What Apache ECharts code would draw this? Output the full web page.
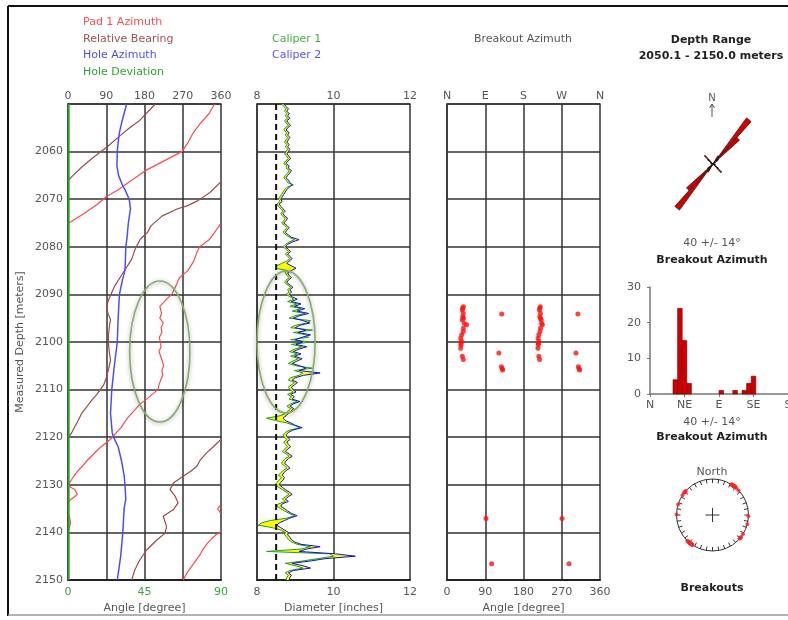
<!DOCTYPE html>
<html><head><meta charset="utf-8">
<script src="https://cdn.jsdelivr.net/npm/echarts@6/dist/echarts.min.js"></script>
<style>html,body{margin:0;padding:0;background:#fff}#c{width:788px;height:620px}</style>
</head><body><div id="c"></div>
<script>
// ---------------- DATA ----------------
const depthMin = 2050, depthMax = 2150, depthStep = 10;
const azTicks = ['0', '90', '180', '270', '360'];
const compassTicks = ['N', 'E', 'S', 'W', 'N'];
const histTicks = ['N', 'NE', 'E', 'SE', 'S'];

// Pad 1 Azimuth [depth, deg]  (null = wrap break)
const pad1Azimuth = [
 [2050,345],[2052,332],[2054,312],[2056,295],[2058,283],[2060,268],[2062,225],[2064,182],[2066,150],[2068,118],[2069.5,90],[2071,70],[2073,38],[2075,2],null,
 [2075.3,358],[2077,345],[2078.5,332],[2080,310],[2081,304],[2083,296],[2085,282],[2086.5,262],[2088,255],[2090,244],[2091,232],[2092.5,216],[2094,220],[2095,216],[2096,224],[2097,219],[2098,221],[2099,215],[2100,217],[2101,219],[2102,214],[2103,218],[2104,222],[2105,225],[2106,221],[2107,223],[2108,218],[2109,214],[2110,212],[2111,198],[2112,185],[2113,170],[2114,160],[2115,150],[2116,140],[2117,132],[2118,125],[2119,114],[2120,105],[2121,92],[2122,78],[2123,66],[2124,55],[2125,44],[2126,35],[2127,24],[2128,15],[2129,8],[2130,1],[2130.5,6],[2131,16],[2132,22],[2132.6,14],[2133.2,5],[2133.8,1],null,
 [2134.3,359],[2135,352],[2135.5,356],[2136,359],null,
 [2136.3,1],[2137,4],[2138,6],[2139,3],[2139.6,1],null,
 [2139.9,359],[2140.5,348],[2141.5,336],[2142.5,326],[2143.5,318],[2144.5,312],[2145.5,304],[2146.5,296],[2147.5,288],[2148.5,280],[2150,271]
];
// Relative Bearing [depth, deg]
const relativeBearing = [
 [2050,205],[2051,195],[2052.3,181],[2053.5,168],[2055,145],[2056.7,122],[2059.1,91],[2061.2,60],[2063.3,32],[2065,12],[2066,1],null,
 [2066.4,359],[2068.6,334],[2070.3,306],[2071.4,280],[2072,258],[2073.5,222],[2075.6,195],[2077,187],[2078.4,170],[2080.5,158],[2082.6,150],[2085.4,130],[2088.2,110],[2091,96],[2092.5,91],[2094,94],[2095.3,100],[2097,97],[2098.8,95],[2100,95],[2102,97],[2103.8,100],[2105.5,96],[2107.3,91],[2109,84],[2110.1,75],[2111,68],[2112.2,56],[2113.5,45],[2115,32],[2116.5,24],[2117.8,16],[2119,9],[2119.8,3],[2120.1,0.5],null,
 [2120.5,359],[2122,342],[2123.3,326],[2124.7,312],[2126.1,303],[2127.2,288],[2128.2,271],[2129.6,248],[2131,240],[2132.4,252],[2133.8,259],[2135.2,248],[2136.6,224],[2137.7,228],[2138.8,232],[2140.2,228],[2141.6,209],[2143.7,185],[2145.8,169],[2147.9,157],[2150,150]
];
// Hole Azimuth [depth, deg]
const holeAzimuth = [
 [2050,138],[2052,132],[2054,126],[2056,121],[2058,118],[2060,116],[2063,115],[2065,119],[2067,128],[2068,134],[2070,144],[2072,147],[2075,142],[2078,139],[2080,136],[2083,135],[2085,134],[2087,128],[2090,121],[2095,118],[2100,116],[2105,109],[2110,103],[2115,100],[2119,104],[2120,107],[2122,118],[2125,126],[2128,132],[2130,134],[2133,136],[2135,132],[2140,129],[2145,124],[2150,116]
];
// Hole Deviation [depth, deg]
const holeDeviation = [[2050,0.4],[2100,0.4],[2150,0.4]];

// Calipers (inches), sampled every 0.5 m from 2050
const calStart = 2050, calStep = 0.5;
const caliper1 = [
 8.64,8.70,8.76,8.72,8.78,8.74,8.80,8.72,8.76,8.82,8.74,8.70,8.78,8.74,8.80,8.76,8.72,8.78,8.74,8.80,
 8.76,8.72,8.78,8.82,8.74,8.70,8.78,8.76,8.84,8.80,8.74,8.70,8.76,8.80,8.95,8.78,8.72,8.68,8.64,8.60,
 8.56,8.60,8.52,8.56,8.62,8.68,8.62,8.66,8.74,8.70,8.64,8.72,8.78,8.72,8.68,8.76,8.84,8.98,8.84,8.74,
 8.68,8.76,8.82,8.74,8.80,8.86,8.78,8.64,8.52,8.48,8.80,8.74,8.78,8.84,8.76,8.72,8.80,8.88,8.80,8.84,
 8.76,8.86,8.96,8.80,9.05,8.86,9.15,8.92,9.25,8.98,8.84,9.40,9.30,9.00,8.88,9.45,8.95,9.28,9.35,8.88,
 9.40,8.90,9.18,8.98,8.85,9.05,8.88,9.08,8.94,8.82,9.02,9.45,8.98,9.20,9.10,8.88,8.82,8.98,8.90,8.82,
 8.86,8.94,8.80,8.90,8.84,9.05,8.88,8.78,8.88,8.82,8.74,8.60,8.25,8.48,8.78,8.96,9.12,8.86,8.74,8.68,
 8.72,8.78,8.70,8.74,8.80,8.72,8.66,8.76,8.84,8.74,8.68,8.64,8.72,8.78,8.68,8.62,8.56,8.64,8.58,8.52,
 8.48,8.56,8.66,8.76,8.84,8.74,8.66,8.74,8.56,8.52,8.62,8.72,8.84,8.98,8.78,8.35,8.12,8.03,8.40,8.62,
 8.74,8.72,8.78,8.82,8.90,9.05,9.40,9.15,8.25,9.90,10.00,9.60,9.20,8.74,9.00,9.20,8.86,8.74,8.82,8.78,
 8.76
];
const caliper2 = [
 8.70,8.76,8.82,8.78,8.84,8.80,8.86,8.78,8.82,8.88,8.80,8.76,8.84,8.80,8.86,8.82,8.78,8.84,8.80,8.86,
 8.82,8.78,8.84,8.88,8.80,8.76,8.84,8.82,8.90,8.86,8.80,8.76,8.82,8.86,8.92,8.84,8.78,8.74,8.70,8.66,
 8.62,8.66,8.58,8.62,8.68,8.74,8.68,8.72,8.80,8.76,8.70,8.78,8.84,8.78,8.74,8.82,8.90,9.10,8.92,8.80,
 8.74,8.82,8.88,8.80,8.86,8.92,8.84,8.78,8.90,9.02,8.90,8.80,8.84,8.90,8.82,8.78,8.86,8.94,8.86,8.90,
 8.84,8.92,9.05,8.90,9.15,8.98,9.25,9.05,9.35,9.10,8.95,9.20,9.38,9.12,9.00,9.28,9.08,9.40,9.18,9.00,
 9.20,9.02,9.30,9.10,8.95,9.15,8.98,9.18,9.05,8.92,9.12,9.28,9.10,9.65,9.22,9.00,8.92,9.06,8.98,8.90,
 8.94,9.02,8.88,8.98,8.92,9.12,8.95,8.86,8.96,8.90,8.82,8.76,8.68,8.74,8.88,9.00,9.18,8.94,8.82,8.76,
 8.80,8.86,8.78,8.82,8.88,8.80,8.74,8.84,8.92,8.82,8.76,8.72,8.80,8.86,8.76,8.70,8.66,8.72,8.68,8.62,
 8.58,8.66,8.74,8.84,8.92,8.82,8.74,8.82,8.66,8.62,8.72,8.80,8.90,9.05,8.86,8.72,8.58,8.52,8.62,8.72,
 8.82,8.80,8.86,8.90,8.98,9.15,9.65,9.30,9.10,10.05,10.57,9.80,9.40,8.92,9.20,9.40,8.95,8.82,8.90,8.86,
 8.84
];
const bitSize = 8.5;

// Breakouts [depth, azimuth deg]
const breakouts = [
 [2092.6,38.4],[2092.9,37],[2093.3,36.1],[2094.0,38.4],[2094.7,36.9],[2095.0,39],[2095.4,36.1],[2096.1,40.8],[2096.4,46.3],[2097.1,38.4],[2097.8,38.4],[2098.5,34.5],[2099.2,32.2],[2099.9,34.5],[2100.2,33],[2100.6,32.9],[2101.3,32.2],[2103.0,36.1],[2103.7,38.4],
 [2092.6,219.8],[2092.9,218],[2093.3,217.5],[2094.0,220],[2094.7,218.3],[2095.0,220],[2095.4,221.8],[2096.1,222.5],[2096.4,224.5],[2097.1,220],[2097.8,219],[2098.5,216],[2099.2,214.5],[2099.9,216],[2100.2,215],[2100.6,215],[2101.3,214],[2103.0,216],[2103.7,218],
 [2094.1,128.7],[2094.1,308],[2102.3,122],[2102.3,303.5],
 [2105.2,128],[2105.6,130],[2105.9,131],[2105.2,309],[2105.6,311],[2105.9,312],
 [2137.1,91.8],[2137.1,270.6],[2146.6,105],[2146.6,287]
];

// Breakout azimuth histogram (0-180 deg, 6 deg bins)
const histBinWidth = 6;
const histBinStart = [30, 36, 42, 48, 90, 108, 120, 126, 132];
const histCount    = [4, 24, 15, 3, 1, 1, 1, 3, 5];

// Annotation ellipses (data units)
const annotations = [
 {track: 0, x: 216, depth: 2102, halfX: 71, halfDepth: 14.8},
 {track: 1, x: 8.76, depth: 2100, halfX: 0.76, halfDepth: 14.9}
];

// ---------------- CHART ----------------
const FONT = '"DejaVu Sans", sans-serif';
const GRID_COL = '#333';
const lbl = (extra) => Object.assign({color: '#555', fontSize: 11, fontFamily: FONT}, extra || {});
const toLine = arr => arr.map(p => p ? [p[1], p[0]] : ['-', '-']);

const calDepth = i => calStart + i * calStep;
const calPairs = c => c.map((v, i) => [v, calDepth(i)]);

const roseBins = [];
const roseCounts = [];
for (let a = 0; a < 360; a += histBinWidth) { roseBins.push(String(a)); roseCounts.push(0); }
histBinStart.forEach((s, i) => {
  roseCounts[s / histBinWidth] += histCount[i];
  roseCounts[(s + 180) / histBinWidth] += histCount[i];
});

function depthAxis(gridIndex, showLabels) {
  return {
    gridIndex, type: 'value', inverse: true, min: depthMin, max: depthMax, interval: depthStep,
    axisLine: {show: true, lineStyle: {color: GRID_COL, width: 1.5}},
    axisTick: {show: false},
    splitLine: {show: true, lineStyle: {color: GRID_COL, width: 1.5}},
    axisLabel: lbl({show: showLabels, margin: 5, showMinLabel: false, formatter: v => String(v)}),
    name: showLabels ? 'Measured Depth [meters]' : '',
    nameLocation: 'middle', nameRotate: 90, nameGap: 42,
    nameTextStyle: {color: '#555', fontSize: 11, fontFamily: FONT}
  };
}
function topAxis(gridIndex, min, max, interval, fmt) {
  return {
    gridIndex, type: 'value', position: 'top', min, max, interval,
    axisLine: {show: true, lineStyle: {color: GRID_COL, width: 1.5}},
    axisTick: {show: false},
    splitLine: {show: true, lineStyle: {color: GRID_COL, width: 1.5}},
    axisLabel: lbl({margin: 2, formatter: fmt || (v => String(v))})
  };
}
function bottomAxis(gridIndex, min, max, interval, name, color, fmt) {
  return {
    gridIndex, type: 'value', position: 'bottom', min, max, interval,
    axisLine: {show: true, lineStyle: {color: '#222', width: 2}},
    axisTick: {show: false},
    splitLine: {show: false},
    axisLabel: lbl({margin: 7, color: color || '#555', formatter: fmt || (v => String(v))}),
    name, nameLocation: 'middle', nameGap: 21,
    nameTextStyle: {color: '#555', fontSize: 11, fontFamily: FONT}
  };
}

const chart = echarts.init(document.getElementById('c'), null, {renderer: 'canvas'});
const option = {
  animation: false,
  backgroundColor: '#fff',
  textStyle: {fontFamily: FONT},
  grid: [
    {left: 68, top: 104, width: 153, height: 476, outerBoundsMode: 'none'},
    {left: 257, top: 104, width: 153, height: 476, outerBoundsMode: 'none'},
    {left: 447, top: 104, width: 153, height: 476, outerBoundsMode: 'none'},
    {left: 650, top: 287, width: 138, height: 107, outerBoundsMode: 'none'}
  ],
  xAxis: [
    topAxis(0, 0, 360, 90, v => azTicks[v / 90]),
    bottomAxis(0, 0, 90, 45, 'Angle [degree]', '#3aa53a'),
    topAxis(1, 8, 12, 2),
    bottomAxis(1, 8, 12, 2, 'Diameter [inches]'),
    topAxis(2, 0, 360, 90, v => compassTicks[v / 90]),
    bottomAxis(2, 0, 360, 90, 'Angle [degree]'),
    {
      gridIndex: 3, type: 'value', min: 0, max: 180, interval: 45,
      axisLine: {show: true, lineStyle: {color: '#777', width: 1.5}},
      axisTick: {show: true, length: 3, lineStyle: {color: '#777'}},
      splitLine: {show: false},
      axisLabel: lbl({margin: 6, formatter: v => histTicks[v / 45]})
    }
  ],
  yAxis: [
    depthAxis(0, true), depthAxis(1, false), depthAxis(2, false),
    {
      gridIndex: 3, type: 'value', min: 0, max: 30, interval: 10,
      axisLine: {show: true, lineStyle: {color: '#777', width: 1.5}},
      axisTick: {show: true, length: 3, lineStyle: {color: '#777'}},
      splitLine: {show: false},
      axisLabel: lbl({margin: 9})
    }
  ],
  polar: [
    {center: [713, 164], radius: 57},
    {center: [712.5, 515], radius: 36}
  ],
  angleAxis: [
    {polarIndex: 0, type: 'category', data: roseBins, startAngle: 90, clockwise: true, boundaryGap: true, show: false},
    {polarIndex: 1, type: 'value', min: 0, max: 360, interval: 10, startAngle: 90, clockwise: true,
     axisLine: {show: true, lineStyle: {color: '#333', width: 1}},
     axisTick: {show: true, inside: true, length: 4, lineStyle: {color: '#333', width: 1}},
     axisLabel: {show: false}, splitLine: {show: false}, splitArea: {show: false}}
  ],
  radiusAxis: [
    {polarIndex: 0, min: 0, max: 24, show: false},
    {polarIndex: 1, min: 0, max: 1, show: false}
  ],
  series: [
    {name: 'Pad 1 Azimuth', type: 'line', xAxisIndex: 0, yAxisIndex: 0, data: toLine(pad1Azimuth),
     showSymbol: false, connectNulls: false, lineStyle: {color: '#ff4a4a', width: 1.2}, z: 3},
    {name: 'Relative Bearing', type: 'line', xAxisIndex: 0, yAxisIndex: 0, data: toLine(relativeBearing),
     showSymbol: false, connectNulls: false, lineStyle: {color: '#9e4848', width: 1.2}, z: 3},
    {name: 'Hole Azimuth', type: 'line', xAxisIndex: 0, yAxisIndex: 0, data: toLine(holeAzimuth),
     showSymbol: false, lineStyle: {color: '#4d4dff', width: 1.5}, z: 3},
    {name: 'Hole Deviation', type: 'line', xAxisIndex: 1, yAxisIndex: 0, data: toLine(holeDeviation),
     showSymbol: false, lineStyle: {color: '#2e9e2e', width: 2}, z: 4},
    {name: 'Caliper fill', type: 'custom', xAxisIndex: 2, yAxisIndex: 1, silent: true, z: 2,
     data: [[bitSize, (depthMin + depthMax) / 2]],
     renderItem: (params, api) => {
       const pts = [];
       for (let i = 0; i < caliper1.length; i++) pts.push(api.coord([caliper1[i], calDepth(i)]));
       for (let i = caliper2.length - 1; i >= 0; i--) pts.push(api.coord([caliper2[i], calDepth(i)]));
       return {type: 'polygon', shape: {points: pts}, style: {fill: '#ffff00', stroke: null}};
     }},
    {name: 'Caliper 1', type: 'line', xAxisIndex: 2, yAxisIndex: 1, data: calPairs(caliper1),
     showSymbol: false, lineStyle: {color: '#1f9f1f', width: 1}, z: 3},
    {name: 'Caliper 2', type: 'line', xAxisIndex: 2, yAxisIndex: 1, data: calPairs(caliper2),
     showSymbol: false, lineStyle: {color: '#1010e6', width: 1}, z: 3},
    {name: 'Bit size', type: 'line', xAxisIndex: 2, yAxisIndex: 1, data: [[bitSize, depthMin], [bitSize, depthMax]],
     showSymbol: false, lineStyle: {color: '#111', width: 2, type: [6, 4]}, z: 5},
    {name: 'Breakout Azimuth', type: 'scatter', xAxisIndex: 4, yAxisIndex: 2,
     data: breakouts.map(b => [b[1], b[0]]), symbolSize: 5, itemStyle: {color: '#ff1010'}},
    {name: 'Histogram', type: 'custom', xAxisIndex: 6, yAxisIndex: 3,
     data: histBinStart.map((s, i) => [s, histCount[i]]),
     renderItem: (params, api) => {
       const s = api.value(0), c = api.value(1);
       const p0 = api.coord([s, c]), p1 = api.coord([s + histBinWidth, 0]);
       return {type: 'rect', shape: {x: p0[0], y: p0[1], width: p1[0] - p0[0], height: p1[1] - p0[1]},
               style: {fill: '#d00000', stroke: '#700000', lineWidth: 0.6}};
     }},
    {name: 'Rose', type: 'bar', coordinateSystem: 'polar', polarIndex: 0, data: roseCounts,
     barCategoryGap: '0%', itemStyle: {color: '#d40000', borderColor: '#111', borderWidth: 0.7}},
    {name: 'Breakouts', type: 'scatter', coordinateSystem: 'polar', polarIndex: 1,
     data: breakouts.map(b => [1, b[1]]), symbolSize: 4, itemStyle: {color: '#ff2020', opacity: 0.8}}
  ]
};
chart.setOption(option);

// ---- text & annotations ----
function txt(text, x, y, color, opts) {
  opts = opts || {};
  return {type: 'text', x, y, z: 100, silent: true,
    style: {text, fill: color, font: (opts.bold ? 'bold ' : '') + (opts.size || 11) + 'px ' + FONT,
            textAlign: opts.align || 'center', verticalAlign: 'middle'}};
}
const g = [
  {type: 'line', shape: {x1: 8, y1: 6, x2: 788, y2: 6}, style: {stroke: '#111', lineWidth: 2}, z: 100},
  {type: 'line', shape: {x1: 8, y1: 6, x2: 8, y2: 616}, style: {stroke: '#111', lineWidth: 2}, z: 100},
  {type: 'line', shape: {x1: 8, y1: 615, x2: 788, y2: 615}, style: {stroke: '#999', lineWidth: 1.5}, z: 100},
  txt('Pad 1 Azimuth', 83, 22, '#ff4d4d', {align: 'left'}),
  txt('Relative Bearing', 83, 39, '#a05050', {align: 'left'}),
  txt('Hole Azimuth', 83, 55, '#4d4dff', {align: 'left'}),
  txt('Hole Deviation', 83, 72, '#35a035', {align: 'left'}),
  txt('Caliper 1', 272, 39, '#45b045', {align: 'left'}),
  txt('Caliper 2', 272, 55, '#5555ff', {align: 'left'}),
  txt('Breakout Azimuth', 523, 39, '#555'),
  txt('Depth Range', 711, 40, '#222', {bold: true}),
  txt('2050.1 - 2150.0 meters', 711, 56, '#222', {bold: true}),
  txt('N', 712, 98, '#555', {size: 10}),
  {type: 'line', shape: {x1: 712, y1: 117, x2: 712, y2: 104}, style: {stroke: '#555', lineWidth: 1}, z: 100},
  {type: 'polyline', shape: {points: [[709.5, 108], [712, 104], [714.5, 108]]}, style: {stroke: '#555', lineWidth: 1, fill: null}, z: 100},
  txt('40 +/- 14\u00b0', 712, 243, '#555'),
  txt('Breakout Azimuth', 712, 260, '#222', {bold: true}),
  txt('40 +/- 14\u00b0', 712, 422, '#555'),
  txt('Breakout Azimuth', 712, 437, '#222', {bold: true}),
  txt('North', 712, 472, '#555'),
  txt('Breakouts', 712, 588, '#222', {bold: true})
];
// centre cross of breakout polar plot
const pc = chart.convertToPixel({seriesIndex: 11}, [0, 0]);
if (pc) {
  g.push({type: 'line', shape: {x1: pc[0] - 7, y1: pc[1], x2: pc[0] + 7, y2: pc[1]}, style: {stroke: '#333', lineWidth: 1}, z: 100});
  g.push({type: 'line', shape: {x1: pc[0], y1: pc[1] - 7, x2: pc[0], y2: pc[1] + 7}, style: {stroke: '#333', lineWidth: 1}, z: 100});
}
const finders = [{xAxisIndex: 0, yAxisIndex: 0}, {xAxisIndex: 2, yAxisIndex: 1}];
annotations.forEach(a => {
  const c = chart.convertToPixel(finders[a.track], [a.x, a.depth]);
  const e = chart.convertToPixel(finders[a.track], [a.x + a.halfX, a.depth + a.halfDepth]);
  g.push({type: 'ellipse', z: 90, silent: true,
    shape: {cx: c[0], cy: c[1], rx: Math.abs(e[0] - c[0]), ry: Math.abs(e[1] - c[1])},
    style: {fill: null, stroke: '#86ad6a', lineWidth: 1.6, shadowBlur: 4, shadowColor: 'rgba(0,0,0,0.35)', shadowOffsetY: 1}});
});
chart.setOption({graphic: g});
</script></body></html>
